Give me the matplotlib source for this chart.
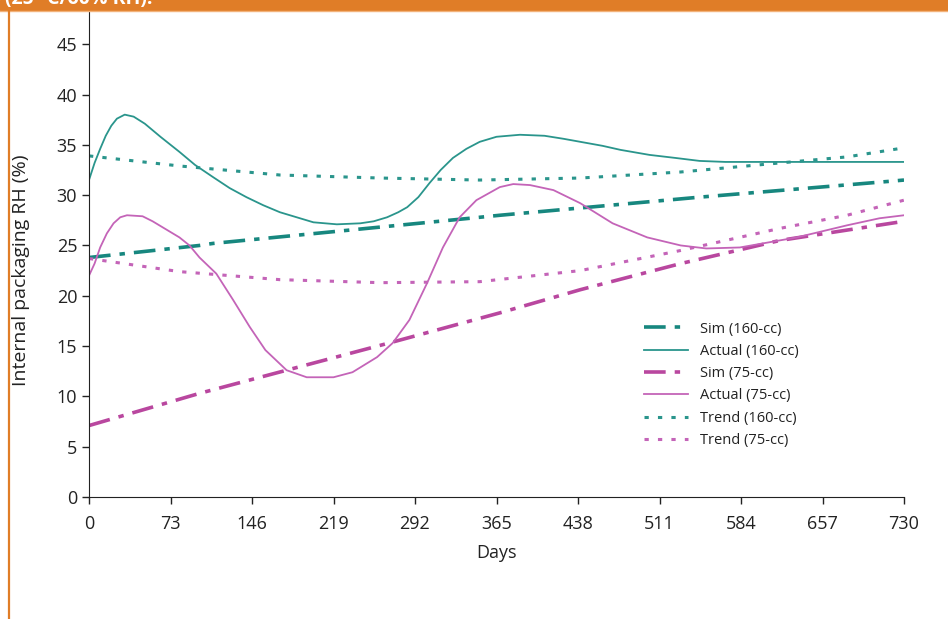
import matplotlib
matplotlib.use('Agg')
import matplotlib.pyplot as plt
import matplotlib.patches as patches
import matplotlib.lines as mlines

plt.rcParams['font.family'] = ['Open Sans', 'DejaVu Sans']

# data
sim160_days = [0, 99, 111, 231, 341, 368, 547, 720, 730]
sim160_rh = [23.8, 25.0, 25.2, 26.5, 27.7, 28.0, 29.8, 31.4, 31.5]

act160_days = [0, 5, 10, 15, 20, 25, 32, 40, 50, 64, 81, 95, 111, 126, 141, 156,
               171, 186, 201, 222, 243, 255, 267, 277, 285, 295, 305, 315, 326,
               338, 350, 365, 386, 408, 425, 440, 460, 476, 502, 525, 547, 570,
               600, 650, 700, 730]
act160_rh = [31.5, 33.2, 34.6, 35.9, 36.9, 37.6, 38.0, 37.8, 37.1, 35.8, 34.3,
             33.0, 31.8, 30.7, 29.8, 29.0, 28.3, 27.8, 27.3, 27.1, 27.2, 27.4,
             27.8, 28.3, 28.8, 29.8, 31.2, 32.5, 33.7, 34.6, 35.3, 35.8, 36.0,
             35.9, 35.6, 35.3, 34.9, 34.5, 34.0, 33.7, 33.4, 33.3, 33.3, 33.3,
             33.3, 33.3]

sim75_days = [0, 99, 177, 272, 368, 440, 530, 619, 730]
sim75_rh = [7.1, 10.3, 12.6, 15.4, 18.3, 20.6, 23.2, 25.5, 27.4]

act75_days = [0, 5, 10, 16, 22, 28, 34, 48, 57, 66, 81, 90, 99, 114, 129, 144,
              158, 177, 195, 219, 236, 258, 272, 287, 303, 317, 332, 347, 368,
              380, 395, 416, 440, 469, 500, 530, 553, 583, 634, 679, 708, 730]
act75_rh = [22.0, 23.2, 24.8, 26.2, 27.2, 27.8, 28.0, 27.9, 27.4, 26.8, 25.8,
            25.0, 23.8, 22.2, 19.6, 16.9, 14.6, 12.6, 11.9, 11.9, 12.4, 13.9,
            15.3, 17.6, 21.3, 24.8, 27.8, 29.5, 30.8, 31.1, 31.0, 30.5, 29.2,
            27.2, 25.8, 25.0, 24.7, 24.8, 25.8, 27.0, 27.7, 28.0]

trend160_days = [0, 81, 171, 261, 350, 440, 530, 619, 679, 730]
trend160_rh = [33.9, 32.9, 32.0, 31.7, 31.5, 31.7, 32.3, 33.2, 33.8, 34.7]

trend75_days = [0, 81, 171, 261, 350, 440, 530, 619, 679, 730]
trend75_rh = [23.7, 22.4, 21.6, 21.3, 21.4, 22.5, 24.5, 26.7, 28.0, 29.5]

x_ticks = [0, 73, 146, 219, 292, 365, 438, 511, 584, 657, 730]
y_ticks = list(range(0, 50, 5))

teal = '#17877f'
teal_light = '#2a958c'
magenta = '#b9479f'
magenta_light = '#c464b8'
orange = '#e07d27'
ink = '#222222'

fig = plt.figure(figsize=(9.48, 6.19), dpi=100)
ax = fig.add_axes([89 / 948, 1 - 497 / 619, 815 / 948, 486 / 619])

sim_style = (0, (6, 2.5, 1.5, 2.5))
trend_style = (0, (1.4, 3))

ax.plot(sim160_days, sim160_rh, color=teal, lw=2.6, linestyle=sim_style, label='Sim (160-cc)')
ax.plot(act160_days, act160_rh, color=teal_light, lw=1.3, label='Actual (160-cc)')
ax.plot(sim75_days, sim75_rh, color=magenta, lw=2.6, linestyle=sim_style, label='Sim (75-cc)')
ax.plot(act75_days, act75_rh, color=magenta_light, lw=1.3, label='Actual (75-cc)')
ax.plot(trend160_days, trend160_rh, color=teal_light, lw=2.2, linestyle=trend_style, label='Trend (160-cc)')
ax.plot(trend75_days, trend75_rh, color=magenta_light, lw=2.2, linestyle=trend_style, label='Trend (75-cc)')

ax.set_xlim(0, 730)
ax.set_ylim(0, 48.3)
ax.set_xticks(x_ticks)
ax.set_yticks(y_ticks)
ax.tick_params(direction='out', length=5, width=1, labelsize=13, colors=ink)
ax.tick_params(axis='x', pad=8)
ax.spines['top'].set_visible(False)
ax.spines['right'].set_visible(False)
ax.spines['left'].set_color(ink)
ax.spines['bottom'].set_color(ink)

ax.set_xlabel('Days', fontsize=13, color=ink, labelpad=8)
ax.set_ylabel('Internal packaging RH (%)', fontsize=14, color=ink)
ax.yaxis.set_label_coords(-0.072, 0.467)

leg = ax.legend(loc='upper left', bbox_to_anchor=(0.665, 0.388), frameon=False,
                fontsize=10.5, handlelength=3.0, handletextpad=0.8, labelspacing=0.5)
for t in leg.get_texts():
    t.set_color(ink)

# orange header band and left rule
fig.patches.append(patches.Rectangle((0, 1 - 10 / 619), 1, 10 / 619, transform=fig.transFigure,
                                     color=orange, zorder=0))
fig.lines.append(mlines.Line2D([0, 1], [1 - 11 / 619, 1 - 11 / 619], transform=fig.transFigure,
                               color='#f2b27a', lw=1))
fig.lines.append(mlines.Line2D([8.5 / 948, 8.5 / 948], [0, 1 - 10 / 619], transform=fig.transFigure,
                               color=orange, lw=1.6))
fig.text(5 / 948, 1 - 4 / 619, '(25 °C/60% RH).', color='white', fontsize=14,
         fontweight='bold', ha='left', va='baseline')

fig.savefig('out.png', dpi=100)
